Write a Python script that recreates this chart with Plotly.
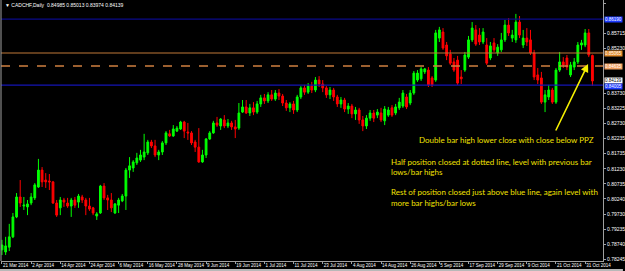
import plotly.graph_objects as go

# ---------------- data (CADCHF daily) ----------------
open_ = [0.7855, 0.7848, 0.7864, 0.7898, 0.7964, 0.8030, 0.8000, 0.7997, 0.8010, 0.8027,
         0.8063, 0.8119, 0.8086, 0.8083, 0.8080, 0.8010, 0.7994, 0.8020, 0.8010, 0.8000,
         0.8020, 0.8013, 0.8030, 0.8020, 0.8000, 0.7994, 0.7967, 0.7977, 0.8066, 0.8027,
         0.8020, 0.7977, 0.8003, 0.8017, 0.8033, 0.8119, 0.8126, 0.8143, 0.8152, 0.8162,
         0.8176, 0.8212, 0.8199, 0.8169, 0.8179, 0.8209, 0.8239, 0.8232, 0.8248, 0.8255,
         0.8278, 0.8245, 0.8242, 0.8212, 0.8195, 0.8146, 0.8169, 0.8222, 0.8242, 0.8275,
         0.8265, 0.8285, 0.8265, 0.8275, 0.8262, 0.8258, 0.8311, 0.8328, 0.8308, 0.8325,
         0.8311, 0.8338, 0.8358, 0.8348, 0.8368, 0.8354, 0.8374, 0.8364, 0.8341, 0.8325,
         0.8338, 0.8318, 0.8361, 0.8391, 0.8377, 0.8397, 0.8384, 0.8417, 0.8404, 0.8391,
         0.8368, 0.8384, 0.8361, 0.8338, 0.8351, 0.8321, 0.8331, 0.8305, 0.8318, 0.8285,
         0.8265, 0.8291, 0.8308, 0.8301, 0.8308, 0.8282, 0.8301, 0.8325, 0.8308, 0.8325,
         0.8331, 0.8361, 0.8341, 0.8374, 0.8417, 0.8421, 0.8444, 0.8450, 0.8424, 0.8417,
         0.8556, 0.8576, 0.8533, 0.8503, 0.8477, 0.8483, 0.8427, 0.8450, 0.8493, 0.8550,
         0.8583, 0.8566, 0.8543, 0.8533, 0.8490, 0.8540, 0.8507, 0.8517, 0.8550, 0.8599,
         0.8556, 0.8550, 0.8609, 0.8533, 0.8556, 0.8550, 0.8507, 0.8434, 0.8424, 0.8344,
         0.8361, 0.8384, 0.8344, 0.8450, 0.8477, 0.8490, 0.8434, 0.8460, 0.8477, 0.8533,
         0.8533, 0.8573, 0.84985]
high = [0.7888, 0.7898, 0.7941, 0.7977, 0.8043, 0.8086, 0.8030, 0.8020, 0.8043, 0.8076,
        0.8156, 0.8129, 0.8109, 0.8106, 0.8083, 0.8020, 0.8030, 0.8027, 0.8027, 0.8027,
        0.8030, 0.8040, 0.8037, 0.8027, 0.8027, 0.7997, 0.7980, 0.8070, 0.8076, 0.8037,
        0.8043, 0.8010, 0.8027, 0.8040, 0.8126, 0.8162, 0.8152, 0.8176, 0.8186, 0.8239,
        0.8219, 0.8219, 0.8219, 0.8186, 0.8215, 0.8248, 0.8252, 0.8268, 0.8265, 0.8282,
        0.8282, 0.8275, 0.8248, 0.8219, 0.8258, 0.8186, 0.8225, 0.8248, 0.8282, 0.8295,
        0.8291, 0.8301, 0.8288, 0.8282, 0.8285, 0.8341, 0.8351, 0.8351, 0.8338, 0.8344,
        0.8348, 0.8368, 0.8371, 0.8377, 0.8384, 0.8384, 0.8387, 0.8371, 0.8351, 0.8344,
        0.8348, 0.8368, 0.8397, 0.8401, 0.8407, 0.8411, 0.8427, 0.8430, 0.8417, 0.8397,
        0.8394, 0.8391, 0.8368, 0.8361, 0.8358, 0.8341, 0.8338, 0.8328, 0.8325, 0.8298,
        0.8301, 0.8318, 0.8318, 0.8321, 0.8325, 0.8331, 0.8328, 0.8334, 0.8338, 0.8358,
        0.8384, 0.8371, 0.8384, 0.8447, 0.8450, 0.8460, 0.8457, 0.8460, 0.8430, 0.8583,
        0.8593, 0.8589, 0.8543, 0.8517, 0.8490, 0.8497, 0.8450, 0.8510, 0.8563, 0.8609,
        0.8599, 0.8589, 0.8589, 0.8556, 0.8543, 0.8556, 0.8536, 0.8573, 0.8616, 0.8622,
        0.8583, 0.8636, 0.8629, 0.8583, 0.8589, 0.8583, 0.8517, 0.8457, 0.8444, 0.8384,
        0.8401, 0.8391, 0.8457, 0.8510, 0.8493, 0.8500, 0.8477, 0.8490, 0.8543, 0.8550,
        0.8586, 0.8586, 0.85013]
low = [0.7838, 0.7838, 0.7851, 0.7894, 0.7960, 0.7997, 0.7987, 0.7970, 0.8003, 0.8020,
       0.8060, 0.8063, 0.8060, 0.8053, 0.8007, 0.7964, 0.7970, 0.7997, 0.7994, 0.7964,
       0.7994, 0.7994, 0.8010, 0.7970, 0.7984, 0.7970, 0.7954, 0.7974, 0.8020, 0.7987,
       0.7980, 0.7974, 0.7977, 0.8013, 0.7987, 0.8093, 0.8113, 0.8136, 0.8146, 0.8152,
       0.8169, 0.8192, 0.8162, 0.8152, 0.8169, 0.8202, 0.8229, 0.8229, 0.8245, 0.8252,
       0.8225, 0.8219, 0.8202, 0.8179, 0.8143, 0.8143, 0.8159, 0.8219, 0.8239, 0.8262,
       0.8252, 0.8258, 0.8258, 0.8252, 0.8225, 0.8252, 0.8308, 0.8305, 0.8298, 0.8301,
       0.8305, 0.8328, 0.8338, 0.8341, 0.8348, 0.8348, 0.8351, 0.8331, 0.8315, 0.8311,
       0.8305, 0.8311, 0.8354, 0.8368, 0.8371, 0.8374, 0.8377, 0.8394, 0.8377, 0.8358,
       0.8354, 0.8348, 0.8328, 0.8325, 0.8311, 0.8305, 0.8291, 0.8285, 0.8272, 0.8248,
       0.8255, 0.8282, 0.8278, 0.8291, 0.8278, 0.8268, 0.8295, 0.8295, 0.8301, 0.8318,
       0.8325, 0.8321, 0.8334, 0.8368, 0.8411, 0.8414, 0.8437, 0.8394, 0.8394, 0.8411,
       0.8543, 0.8517, 0.8483, 0.8467, 0.8444, 0.8401, 0.8404, 0.8444, 0.8487, 0.8543,
       0.8530, 0.8533, 0.8536, 0.8467, 0.8483, 0.8510, 0.8497, 0.8510, 0.8543, 0.8563,
       0.8543, 0.8540, 0.8556, 0.8523, 0.8530, 0.8500, 0.8417, 0.8404, 0.8338, 0.8311,
       0.8351, 0.8338, 0.8338, 0.8444, 0.8457, 0.8450, 0.8427, 0.8450, 0.8470, 0.8517,
       0.8526, 0.8493, 0.83974]
close = [0.7871, 0.7868, 0.7898, 0.7964, 0.8030, 0.8010, 0.8003, 0.8007, 0.8030, 0.8070,
         0.8119, 0.8080, 0.8080, 0.8080, 0.8010, 0.7970, 0.8020, 0.8013, 0.8000, 0.8020,
         0.8003, 0.8033, 0.8020, 0.8000, 0.7990, 0.7977, 0.7974, 0.8066, 0.8027, 0.8020,
         0.7994, 0.8007, 0.8020, 0.8033, 0.8119, 0.8133, 0.8146, 0.8159, 0.8169, 0.8179,
         0.8212, 0.8199, 0.8169, 0.8179, 0.8209, 0.8242, 0.8232, 0.8255, 0.8258, 0.8278,
         0.8248, 0.8242, 0.8209, 0.8195, 0.8146, 0.8169, 0.8222, 0.8242, 0.8275, 0.8268,
         0.8288, 0.8265, 0.8275, 0.8262, 0.8255, 0.8308, 0.8328, 0.8308, 0.8325, 0.8311,
         0.8338, 0.8358, 0.8348, 0.8368, 0.8354, 0.8374, 0.8364, 0.8341, 0.8325, 0.8338,
         0.8318, 0.8361, 0.8391, 0.8377, 0.8397, 0.8384, 0.8417, 0.8404, 0.8391, 0.8368,
         0.8384, 0.8361, 0.8338, 0.8351, 0.8321, 0.8331, 0.8305, 0.8318, 0.8285, 0.8265,
         0.8291, 0.8308, 0.8291, 0.8311, 0.8285, 0.8321, 0.8318, 0.8301, 0.8328, 0.8344,
         0.8374, 0.8328, 0.8374, 0.8440, 0.8440, 0.8454, 0.8454, 0.8401, 0.8401, 0.8573,
         0.8583, 0.8523, 0.8497, 0.8473, 0.8450, 0.8407, 0.8421, 0.8500, 0.8550, 0.8589,
         0.8536, 0.8543, 0.8576, 0.8473, 0.8530, 0.8517, 0.8526, 0.8550, 0.8599, 0.8573,
         0.8566, 0.8609, 0.8566, 0.8556, 0.8543, 0.8507, 0.8427, 0.8417, 0.8344, 0.8368,
         0.8384, 0.8344, 0.8450, 0.8477, 0.8467, 0.8460, 0.8467, 0.8477, 0.8533, 0.8540,
         0.8573, 0.8500, 0.84139]

bar_index = list(range(len(close)))

x_tick_index = [0, 8, 16, 24, 32, 40, 48, 56, 64, 72, 80, 88, 96, 104, 112, 120, 128, 136, 144, 152, 160]
x_tick_labels = ["21 Mar 2014", "2 Apr 2014", "14 Apr 2014", "24 Apr 2014", "6 May 2014",
                 "16 May 2014", "28 May 2014", "9 Jun 2014", "19 Jun 2014", "1 Jul 2014",
                 "11 Jul 2014", "23 Jul 2014", "4 Aug 2014", "14 Aug 2014", "26 Aug 2014",
                 "5 Sep 2014", "17 Sep 2014", "29 Sep 2014", "9 Oct 2014", "21 Oct 2014",
                 "31 Oct 2014"]

y_tick_values = [0.86720, 0.85715, 0.85230, 0.83730, 0.83225, 0.82730, 0.82235, 0.81735,
                 0.81230, 0.80735, 0.80240, 0.79730, 0.79235, 0.78740, 0.78245]
y_tick_labels = ["0.86720", "0.85715", "0.85230", "0.83730", "0.83225", "0.82730", "0.82235",
                 "0.81735", "0.81230", "0.80735", "0.80240", "0.79730", "0.79235", "0.78740",
                 "0.78245"]

level_top_blue = 0.86190
level_orange = 0.85065
level_orange_dash = 0.84635
level_blue = 0.84005
last_price = 0.84139

title_text = "CADCHF,Daily  0.84985 0.85013 0.83974 0.84139"
notes = [
    "Double bar high lower close with close below PPZ",
    "Half position closed at dotted line, level with previous bar",
    "lows/bar highs",
    "Rest of position closed just above blue line, again level with",
    "more bar highs/bar lows",
]

# ---------------- figure ----------------
W, H = 625, 271
ML, MR, MT, MB = 1, 20, 0, 10
PW, PH = W - ML - MR, H - MT - MB


def px_x(x):
    return (x - ML) / PW


def px_y(y):
    return 1 - (y - MT) / PH


fig = go.Figure()
fig.add_trace(go.Candlestick(
    x=bar_index, open=open_, high=high, low=low, close=close,
    increasing=dict(line=dict(color="#00FF00", width=1), fillcolor="#00FF00"),
    decreasing=dict(line=dict(color="#FF0000", width=1), fillcolor="#FF0000"),
    whiskerwidth=0, hoverinfo="skip", showlegend=False,
))

shapes = [
    dict(type="line", xref="paper", x0=0, x1=1, yref="y", y0=level_top_blue, y1=level_top_blue,
         line=dict(color="#0A0A8A", width=1.2)),
    dict(type="line", xref="paper", x0=0, x1=1, yref="y", y0=level_orange, y1=level_orange,
         line=dict(color="#C07838", width=1.2)),
    dict(type="line", xref="paper", x0=0, x1=1, yref="y", y0=level_orange_dash, y1=level_orange_dash,
         line=dict(color="#D08040", width=1.5, dash="dash")),
    dict(type="line", xref="paper", x0=0, x1=1, yref="y", y0=level_blue, y1=level_blue,
         line=dict(color="#1414B4", width=1.2)),
    # left frame line and bottom window strip
    dict(type="line", xref="paper", yref="paper", x0=0, x1=0, y0=0, y1=1,
         line=dict(color="#A0A0A0", width=1)),
    dict(type="rect", xref="paper", yref="paper", x0=px_x(0), x1=px_x(W), y0=px_y(269), y1=px_y(272),
         line=dict(width=0), fillcolor="#B8B8B8", layer="above"),
]

annotations = []
# price boxes on the right scale
for val, bg, fg, ys in [(level_top_blue, "#1E3CFF", "#FFFFFF", 0),
                        (level_orange, "#E08A2A", "#FFFFFF", 0),
                        (level_orange_dash, "#F0A060", "#FFFFFF", 0),
                        (last_price, "#FFFFFF", "#000000", 1),
                        (level_blue, "#1E3CFF", "#FFFFFF", -1)]:
    annotations.append(dict(xref="paper", x=1, xanchor="left", xshift=1, yref="y", y=val,
                            yanchor="middle", yshift=ys, text="%.5f" % val, showarrow=False,
                            bgcolor=bg, borderpad=0,
                            font=dict(family="Liberation Sans, Arial", size=4.5, color=fg)))

annotations.append(dict(xref="paper", yref="paper", x=px_x(3), y=px_y(5), xanchor="left",
                        yanchor="middle", showarrow=False, text="\u25bc " + title_text,
                        font=dict(family="Liberation Sans, Arial", size=5, color="#FFFFFF")))

note_pos = [(418, 140), (390, 162), (390, 172), (390, 192), (390, 203)]
for (nx, ny), t in zip(note_pos, notes):
    annotations.append(dict(xref="paper", yref="paper", x=px_x(nx), y=px_y(ny), xanchor="left",
                            yanchor="middle", showarrow=False, text=t,
                            font=dict(family="Lato, Liberation Sans", size=8, color="#F2E200")))

annotations.append(dict(x=160.8, y=0.84702, xref="x", yref="y", ax=-33, ay=68, showarrow=True,
                        arrowhead=2, arrowsize=1, arrowwidth=1.6, arrowcolor="#F5F000", text=""))

fig.update_layout(
    width=W, height=H, margin=dict(l=ML, r=MR, t=MT, b=MB),
    paper_bgcolor="#000000", plot_bgcolor="#000000",
    shapes=shapes, annotations=annotations,
    xaxis=dict(range=[-0.27, 164.9], rangeslider=dict(visible=False), showgrid=False,
               zeroline=False, tickmode="array", tickvals=x_tick_index, ticktext=x_tick_labels,
               tickangle=0, ticklabelposition="outside right",
               ticks="outside", ticklen=2, tickcolor="#A0A0A0",
               tickfont=dict(family="Liberation Sans, Arial", size=4.5, color="#FFFFFF"),
               showline=True, linecolor="#A0A0A0", linewidth=1),
    yaxis=dict(range=[0.78181, 0.8682], side="right", showgrid=False, zeroline=False,
               tickmode="array", tickvals=y_tick_values, ticktext=y_tick_labels,
               ticks="outside", ticklen=2, tickcolor="#A0A0A0",
               tickfont=dict(family="Liberation Sans, Arial", size=5, color="#FFFFFF"),
               showline=True, linecolor="#A0A0A0", linewidth=1),
)

fig.write_html("out.html")
